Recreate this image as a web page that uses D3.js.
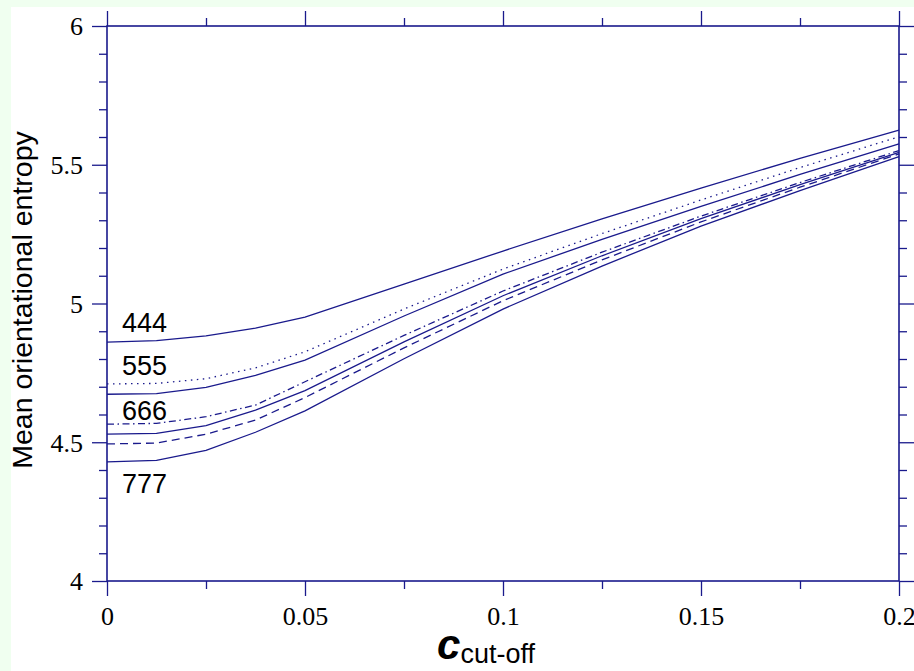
<!DOCTYPE html>
<html>
<head>
<meta charset="utf-8">
<script src="https://cdn.jsdelivr.net/npm/d3@7"></script>
<style>
  html, body { margin: 0; padding: 0; background: #f0fff0; }
  svg { display: block; }
</style>
</head>
<body>
<script>
// ---- data ----
const cutoff = [0, 0.0125, 0.025, 0.0375, 0.05, 0.075, 0.1, 0.125, 0.15, 0.175, 0.2];
const series1 = [4.861, 4.866, 4.883, 4.911, 4.951, 5.070, 5.189, 5.305, 5.416, 5.523, 5.625];
const series2 = [4.710, 4.712, 4.729, 4.768, 4.826, 4.980, 5.124, 5.252, 5.373, 5.490, 5.601];
const series3 = [4.673, 4.675, 4.698, 4.741, 4.796, 4.955, 5.106, 5.231, 5.350, 5.465, 5.575];
const series4 = [4.565, 4.568, 4.592, 4.634, 4.718, 4.885, 5.045, 5.185, 5.315, 5.436, 5.551];
const series5 = [4.529, 4.532, 4.560, 4.616, 4.686, 4.862, 5.028, 5.172, 5.306, 5.428, 5.545];
const series6 = [4.494, 4.497, 4.529, 4.580, 4.661, 4.840, 5.010, 5.157, 5.294, 5.419, 5.539];
const series7 = [4.429, 4.435, 4.471, 4.536, 4.613, 4.801, 4.980, 5.135, 5.279, 5.407, 5.529];
const seriesDash = ["none", "1.5,4.5", "none", "7,3.5,1.5,3.5", "none", "8,5", "none"];

const labelText = ["444", "555", "666", "777"];
const labelX = [0.0038, 0.0038, 0.0038, 0.0038];
const labelY = [4.897, 4.742, 4.580, 4.317];

const xMajorTicks = [0, 0.05, 0.1, 0.15, 0.2];
const xTickLabels = ["0", "0.05", "0.1", "0.15", "0.2"];
const xMinorTicks = [0.025, 0.075, 0.125, 0.175];
const yMajorTicks = [4, 4.5, 5, 5.5, 6];
const yTickLabels = ["4", "4.5", "5", "5.5", "6"];
const yMinorTicks = [4.1, 4.2, 4.3, 4.4, 4.6, 4.7, 4.8, 4.9, 5.1, 5.2, 5.3, 5.4, 5.6, 5.7, 5.8, 5.9];

const allSeries = [series1, series2, series3, series4, series5, series6, series7];

// ---- layout ----
const W = 914, H = 671;
const pLeft = 107, pRight = 899, pTop = 26, pBottom = 581;
const color = "#1a1a8c";

const svg = d3.select("body").append("svg").attr("width", W).attr("height", H);
svg.append("rect").attr("x", 0).attr("y", 0).attr("width", W).attr("height", H).attr("fill", "#f0fff0");
svg.append("rect").attr("x", 11).attr("y", 7).attr("width", W - 11).attr("height", H - 7).attr("fill", "#ffffff");

const x = d3.scaleLinear().domain([0, 0.2]).range([pLeft, pRight]);
const y = d3.scaleLinear().domain([4, 6]).range([pBottom, pTop]);

function styleAxis(g) {
  g.select(".domain").remove();
  g.selectAll(".tick line").attr("stroke", color).attr("stroke-width", 1.3);
}

// bottom axis
svg.append("g").attr("transform", `translate(0,${pBottom})`)
  .call(d3.axisBottom(x).tickValues(xMajorTicks).tickSize(15).tickFormat((d, i) => xTickLabels[i]).tickPadding(10))
  .call(styleAxis)
  .call(g => g.selectAll("text").attr("fill", "#000").attr("font-family", "'Liberation Serif', 'Times New Roman', serif").attr("font-size", 26).attr("dy", "0").attr("y", 44));
svg.append("g").attr("transform", `translate(0,${pBottom})`)
  .call(d3.axisBottom(x).tickValues(xMinorTicks).tickSize(8).tickFormat(""))
  .call(styleAxis);
// top axis
svg.append("g").attr("transform", `translate(0,${pTop})`)
  .call(d3.axisTop(x).tickValues(xMajorTicks).tickSize(15).tickFormat(""))
  .call(styleAxis);
svg.append("g").attr("transform", `translate(0,${pTop})`)
  .call(d3.axisTop(x).tickValues(xMinorTicks).tickSize(8).tickFormat(""))
  .call(styleAxis);
// left axis
svg.append("g").attr("transform", `translate(${pLeft},0)`)
  .call(d3.axisLeft(y).tickValues(yMajorTicks).tickSize(15).tickFormat((d, i) => yTickLabels[i]).tickPadding(9))
  .call(styleAxis)
  .call(g => g.selectAll("text").attr("fill", "#000").attr("font-family", "'Liberation Serif', 'Times New Roman', serif").attr("font-size", 26).attr("dy", "0.34em"));
svg.append("g").attr("transform", `translate(${pLeft},0)`)
  .call(d3.axisLeft(y).tickValues(yMinorTicks).tickSize(8).tickFormat(""))
  .call(styleAxis);
// right axis
svg.append("g").attr("transform", `translate(${pRight},0)`)
  .call(d3.axisRight(y).tickValues(yMajorTicks).tickSize(15).tickFormat(""))
  .call(styleAxis);
svg.append("g").attr("transform", `translate(${pRight},0)`)
  .call(d3.axisRight(y).tickValues(yMinorTicks).tickSize(8).tickFormat(""))
  .call(styleAxis);

// frame
svg.append("rect").attr("x", pLeft).attr("y", pTop).attr("width", pRight - pLeft).attr("height", pBottom - pTop)
  .attr("fill", "none").attr("stroke", color).attr("stroke-width", 1.6);

// lines
const line = d3.line().x((d, i) => x(cutoff[i])).y(d => y(d));
svg.append("g").selectAll("path").data(allSeries).join("path")
  .attr("d", d => line(d))
  .attr("fill", "none")
  .attr("stroke", color)
  .attr("stroke-width", 1.3)
  .attr("stroke-dasharray", (d, i) => seriesDash[i]);

// labels
svg.append("g").selectAll("text").data(labelText).join("text")
  .attr("x", (d, i) => x(labelX[i]))
  .attr("y", (d, i) => y(labelY[i]))
  .attr("font-family", "'Liberation Sans', Arial, sans-serif")
  .attr("font-size", 27)
  .attr("fill", "#000")
  .text(d => d);

// y axis title
svg.append("text")
  .attr("transform", "translate(32,300) rotate(-90)")
  .attr("text-anchor", "middle")
  .attr("font-family", "'Liberation Sans', Arial, sans-serif")
  .attr("font-size", 28.5)
  .attr("fill", "#000")
  .text("Mean orientational entropy");

// x axis title
const xt = svg.append("text")
  .attr("x", 486).attr("y", 659)
  .attr("text-anchor", "middle")
  .attr("font-family", "'Liberation Sans', Arial, sans-serif")
  .attr("fill", "#000");
xt.append("tspan").attr("font-size", 42).attr("font-style", "italic").attr("font-weight", "bold").text("c");
xt.append("tspan").attr("font-size", 27).attr("dy", 4).text("cut-off");
</script>
</body>
</html>
